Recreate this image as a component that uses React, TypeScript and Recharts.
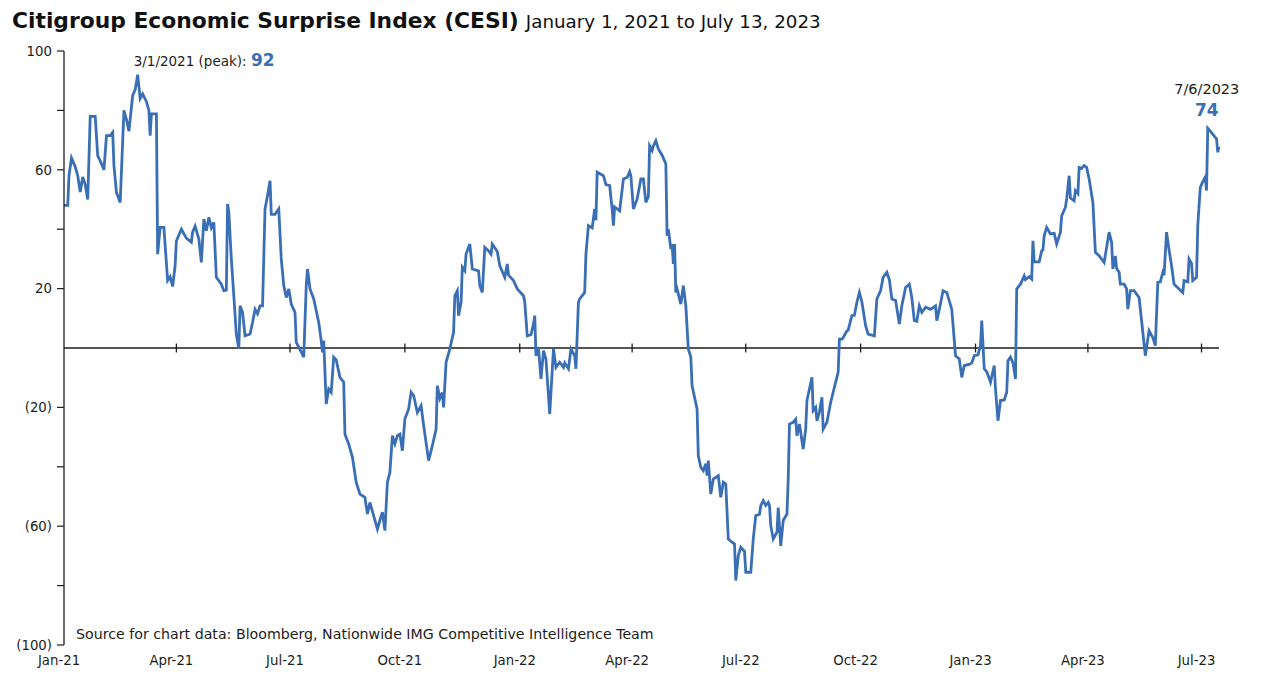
import React from 'react';
import { LineChart, Line, XAxis, YAxis, ReferenceLine, ReferenceDot } from 'recharts';

const FONT = '"DejaVu Sans", Verdana, sans-serif';
const BLUE = '#3A6FB6';
const INK = '#1d1d1b';

// Day offset from Jan 1, 2021
const dayOffsets = [
  0, 3, 4, 6, 9, 11, 13, 15, 17, 19,
  21, 25, 27, 29, 32, 34, 37, 39, 40, 42,
  45, 48, 50, 52, 55, 57, 59, 61, 63, 66,
  68, 69, 70, 74, 75, 77, 80, 83, 85, 87,
  89, 90, 94, 98, 102, 103, 105, 108, 110, 112,
  114, 116, 118, 120, 122, 126, 128, 130, 131, 132,
  134, 136, 138, 140, 141, 143, 145, 149, 151, 153,
  155, 157, 159, 161, 163, 165, 166, 169, 172, 174,
  176, 178, 180, 182, 185, 186, 189, 192, 194, 195,
  197, 200, 204, 206, 207, 208, 210, 212, 214, 216,
  218, 221, 224, 225, 228, 231, 234, 237, 241, 243,
  245, 248, 251, 253, 255, 257, 259, 261, 263, 265,
  267, 269, 271, 273, 276, 278, 280, 283, 286, 288,
  292, 295, 298, 299, 301, 303, 304, 306, 309, 312,
  313, 315, 316, 318, 319, 321, 322, 325, 327, 332,
  333, 335, 337, 340, 342, 343, 347, 349, 353, 355,
  356, 360, 363, 368, 369, 371, 374, 376, 377, 378,
  380, 382, 384, 386, 389, 392, 394, 397, 400, 401,
  404, 406, 409, 410, 412, 413, 417, 418, 420, 423,
  425, 426, 427, 432, 434, 437, 439, 440, 441, 445,
  448, 451, 453, 454, 456, 459, 462, 464, 466, 468,
  469, 471, 472, 474, 476, 479, 482, 483, 484, 486,
  487, 488, 489, 490, 491, 494, 496, 498, 500, 502,
  503, 507, 508, 510, 512, 514, 515, 516, 518, 520,
  524, 526, 528, 530, 532, 535, 537, 538, 540, 542,
  545, 546, 550, 552, 554, 557, 558, 560, 562, 564,
  565, 566, 568, 571, 572, 574, 576, 579, 580, 581,
  584, 586, 587, 589, 592, 594, 595, 599, 600, 602,
  603, 605, 607, 608, 611, 614, 616, 618, 620, 621,
  623, 624, 627, 628, 631, 633, 635, 637, 639, 642,
  644, 649, 651, 654, 656, 659, 661, 663, 666, 669,
  671, 674, 677, 679, 681, 683, 685, 687, 690, 694,
  698, 699, 701, 704, 707, 711, 714, 717, 719, 721,
  725, 727, 729, 732, 734, 735, 737, 739, 742, 745,
  746, 748, 750, 753, 755, 756, 758, 760, 762, 763,
  766, 769, 770, 773, 775, 776, 777, 781, 783, 784,
  785, 787, 790, 793, 795, 798, 799, 802, 803, 805,
  806, 809, 810, 812, 813, 815, 817, 819, 821, 824,
  826, 829, 833, 837, 839, 840, 842, 843, 845, 846,
  849, 851, 852, 854, 857, 861, 864, 866, 869, 872,
  874, 876, 878, 880, 881, 883, 885, 887, 889, 893,
  896, 897, 900, 901, 903, 904, 907, 908, 910, 912,
  914, 915, 916, 919, 922, 923, 924, 925,
];

const cesiValues = [
  48, 48, 58, 64, 61, 58, 52.5, 57.6, 55, 50,
  78, 78, 64.7, 63, 60, 71.5, 71.5, 72.6, 61.4, 52.4,
  49, 80, 77, 73, 85, 87, 92, 84, 85.5, 83,
  80, 71.5, 78.8, 78.8, 31.6, 40.6, 40.6, 22.7, 24, 20.7,
  27.7, 36, 40, 37, 35.6, 39, 41, 36.7, 28.8, 43.4,
  39.5, 44, 40.5, 42.3, 23.8, 21.5, 19.3, 19.5, 48.5, 45.7,
  30, 17.6, 4.7, -0.3, 14.2, 12, 4.1, 4.7, 8.6, 13,
  11.5, 14.2, 14.2, 46.8, 51.3, 56.3, 45, 45, 46.8, 30,
  21, 17, 19.9, 14.8, 12, 1.9, -0.5, -3.1, 21, 26.6,
  19.9, 16.5, 8.6, 2.5, -1.5, 2.5, -18.9, -13.8, -14.9, -3.1,
  -4, -9.9, -11.5, -29, -32.3, -36.8, -45.2, -49.2, -50.3, -55.9,
  -52, -56.5, -61, -58, -55.3, -61.5, -45.2, -41.9, -29.5, -32.3,
  -29.5, -29, -34.6, -23.9, -20.5, -14.9, -16, -21.7, -19.4, -26,
  -37.9, -32.9, -27.3, -12.7, -17, -15, -20, -4.8, -0.3, 5.3,
  17.6, 19.3, 10.9, 15.4, 27.2, 26, 31.6, 35, 26.6, 26,
  21, 18.7, 33.9, 32.7, 31.6, 35, 32.5, 27.7, 23.8, 28.3,
  24.5, 22.7, 19.9, 17.6, 15.5, 4.1, 4.5, 8.1, 10.9, -2.6,
  0, -10.4, -0.9, -3.8, -22.2, -0.3, -6.5, -4.8, -6.5, -5,
  -7, -0.3, -2.6, -7, 15.4, 16.5, 18.7, 31.6, 41.2, 40.4,
  46.8, 43, 59.2, 58, 55, 54.7, 46.8, 41.2, 47.5, 46.2,
  56.9, 57.4, 59.4, 58, 46.8, 50.2, 56.9, 56.9, 49, 51,
  68.1, 66.5, 68, 69.8, 67, 64.9, 62, 37.8, 40, 33.3,
  35, 28.3, 35, 18.7, 19.9, 14.8, 21, 14.2, -0.3, -3.1,
  -12.7, -20.5, -36.3, -40.2, -41.3, -39, -43, -37.9, -49.2, -44.1,
  -43, -50.3, -45.2, -45.8, -64.3, -65.4, -66, -78.3, -69.9, -67.1,
  -68.5, -75.5, -75.5, -64.3, -56.5, -56, -53.1, -51.4, -53, -52,
  -53, -59.8, -64.3, -62, -53.7, -66.6, -58.1, -55.9, -44.1, -25.6,
  -25, -24, -29.5, -25.6, -34, -27.3, -17.7, -9.9, -21.1, -20,
  -24.5, -21.5, -16.6, -27.3, -25, -18.3, -14.9, -11.5, -8.2, 3,
  3, 3.5, 5.8, 6, 10.9, 11, 15.4, 18.7, 15.5, 7.5,
  4.7, 4.1, 16.5, 19.3, 23.8, 25.5, 23, 16.5, 16, 8.1,
  14.2, 20.4, 21.5, 17, 9.2, 9, 14.2, 12, 13.7, 13,
  14.2, 9.2, 13, 19.3, 18.7, 13, -2.6, -3.7, -9.9, -5.9,
  -5.5, -5, -2.6, -2.3, 0.8, 9.2, -7, -8, -11.5, -5.9,
  -13.8, -24.5, -17.7, -17.5, -14.9, -4.3, -3.1, -5, -10.4, 19.9,
  21.5, 24.3, 23, 24, 23.2, 36.1, 29, 29, 32.7, 33,
  37.8, 40.6, 38.4, 38.6, 35, 39, 44.5, 47.4, 50.2, 58,
  50.5, 49.6, 53, 52, 60.8, 60.5, 61.4, 60.8, 56.9, 49,
  32.2, 31.1, 28.8, 39, 35.5, 26.6, 31, 26.8, 25.5, 21.5,
  21.5, 19.9, 13.1, 19.3, 19.3, 17, 5.3, -2.6, 5.8, 3.5,
  0.8, 22.1, 22.3, 25.5, 24.5, 39, 33, 27.7, 21.5, 19.9,
  18.7, 22.7, 22.3, 30, 28.5, 22.7, 23.8, 41.2, 54, 56,
  57.5, 53, 74, 72.5, 70.9, 70.5, 65.9, 67.9,
];

const quarterTicks = [0, 90, 181, 273, 365, 455, 546, 638, 730, 820, 911];
const quarterLabels = ['Jan-21', 'Apr-21', 'Jul-21', 'Oct-21', 'Jan-22', 'Apr-22', 'Jul-22', 'Oct-22', 'Jan-23', 'Apr-23', 'Jul-23'];
const yTicks = [100, 80, 60, 40, 20, -20, -40, -60, -80, -100];
const yLabelled = [100, 60, 20, -20, -60, -100];

const peakDay = 59;
const peakValue = 92;
const peakText = '3/1/2021 (peak):';
const lastDay = 916;
const lastValue = 74;
const lastText = '7/6/2023';

const titleBold = 'Citigroup Economic Surprise Index (CESI)';
const titleRegular = 'January 1, 2021 to July 13, 2023';
const sourceText = 'Source for chart data: Bloomberg, Nationwide IMG Competitive Intelligence Team';

const n = Math.min(dayOffsets.length, cesiValues.length);
const data = dayOffsets.slice(0, n).map((d, i) => ({ day: d, cesi: cesiValues[i] }));

const fmtY = (v: number) => {
  if (!yLabelled.includes(v)) return '';
  return v < 0 ? `(${-v})` : `${v}`;
};
const fmtX = (v: number) => {
  const i = quarterTicks.indexOf(v);
  return i >= 0 ? quarterLabels[i] : '';
};

const centerOf = (vb: any) => ({
  cx: vb.x + (vb.width || 0) / 2,
  cy: vb.y + (vb.height || 0) / 2,
});

const PeakLabel = (props: any) => {
  const { cx, cy } = centerOf(props.viewBox);
  return (
    <text x={cx - 4} y={cy - 9} fontFamily={FONT} fontSize={13.5} fill={INK}>
      {peakText}{' '}
      <tspan fontWeight="bold" fontSize={17} fill={BLUE}>{peakValue}</tspan>
    </text>
  );
};

const LastLabel = (props: any) => {
  const { cx, cy } = centerOf(props.viewBox);
  return (
    <g>
      <text x={cx - 1} y={cy - 34} textAnchor="middle" fontFamily={FONT} fontSize={14.5} fill={INK}>{lastText}</text>
      <text x={cx - 1} y={cy - 12} textAnchor="middle" fontFamily={FONT} fontSize={17} fontWeight="bold" fill={BLUE}>{lastValue}</text>
    </g>
  );
};

export default function App() {
  return (
    <div style={{ position: 'absolute', left: 0, top: 0, width: 1280, height: 683, background: '#fff' }}>
      <LineChart
        width={1280}
        height={683}
        data={data}
        margin={{ top: 51, right: 61, left: 0, bottom: 8 }}
      >
        <XAxis
          dataKey="day"
          type="number"
          domain={[0, 925]}
          ticks={quarterTicks}
          interval={0}
          tickFormatter={fmtX}
          axisLine={false}
          tickLine={false}
          height={30}
          tickMargin={5}
          tick={{ fontFamily: FONT, fontSize: 13.3, fill: INK, dx: -5 }}
        />
        <YAxis
          type="number"
          domain={[-100, 100]}
          ticks={yTicks}
          interval={0}
          tickFormatter={fmtY}
          width={64}
          tickSize={7}
          tickMargin={5}
          axisLine={{ stroke: INK, strokeWidth: 1.3 }}
          tickLine={{ stroke: INK, strokeWidth: 1.2 }}
          tick={{ fontFamily: FONT, fontSize: 13.3, fill: INK }}
        />
        <ReferenceLine y={0} stroke={INK} strokeWidth={1.4} />
        {quarterTicks.slice(1).map((t) => (
          <ReferenceLine key={t} segment={[{ x: t, y: -1.5 }, { x: t, y: 1.5 }]} stroke={INK} strokeWidth={1.3} />
        ))}
        <Line
          type="linear"
          dataKey="cesi"
          stroke={BLUE}
          strokeWidth={2.8}
          dot={false}
          activeDot={false}
          isAnimationActive={false}
        />
        <ReferenceDot x={peakDay} y={peakValue} r={2} fill="none" stroke="none" label={<PeakLabel />} />
        <ReferenceDot x={lastDay} y={lastValue} r={2} fill="none" stroke="none" label={<LastLabel />} />
      </LineChart>
      <svg width={1280} height={683} style={{ position: 'absolute', left: 0, top: 0, pointerEvents: 'none' }}>
        <text x={12} y={28} fontFamily={FONT} fill="#111">
          <tspan fontSize={21.8} fontWeight="bold">{titleBold}</tspan>
          <tspan fontSize={18.3} dx={7}>{titleRegular}</tspan>
        </text>
        <text x={76} y={639} fontFamily={FONT} fontSize={14.2} fill={INK}>{sourceText}</text>
      </svg>
    </div>
  );
}
